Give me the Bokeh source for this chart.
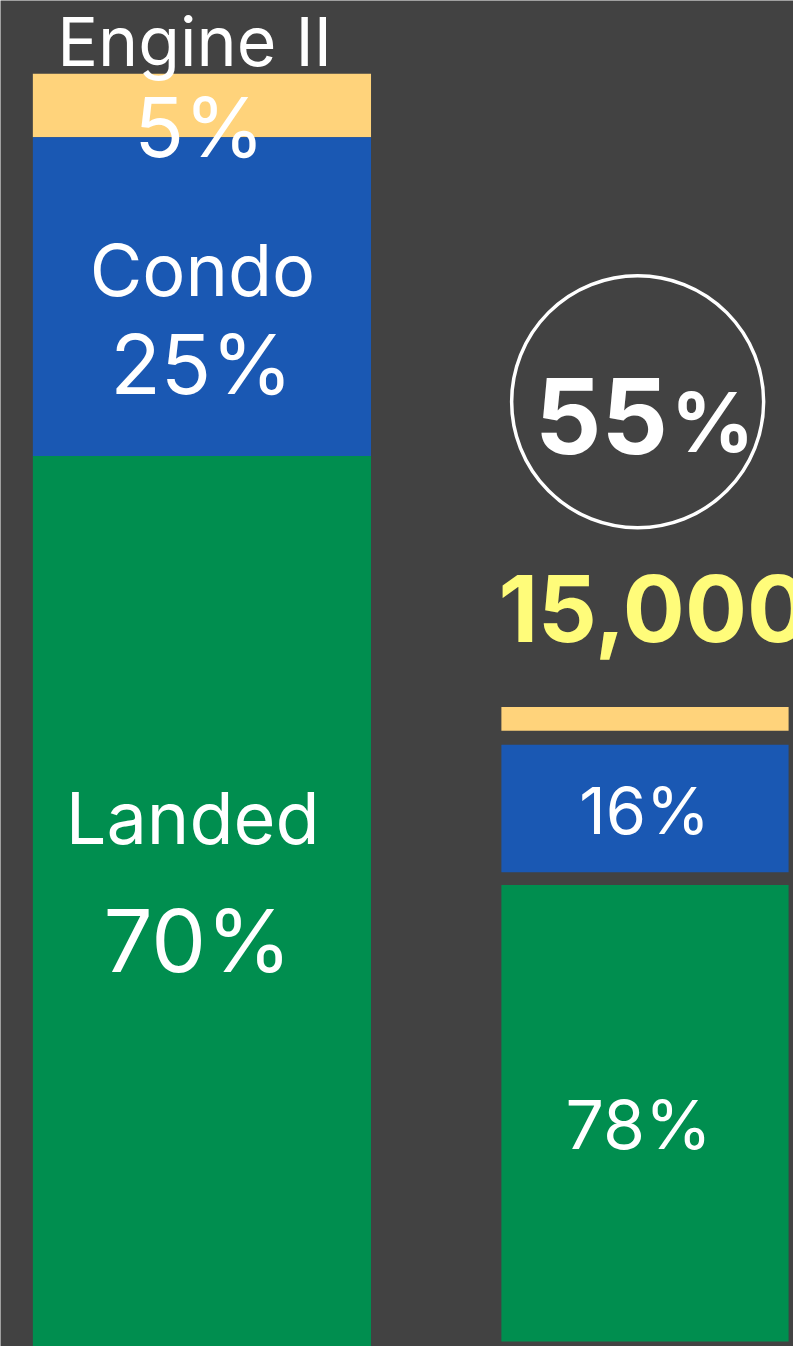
from bokeh.plotting import figure
from bokeh.models import Range1d, ColumnDataSource
from bokeh.embed import file_html
from bokeh.resources import INLINE
from bokeh.core.properties import value

# ---------------- data ----------------
title = "Engine II"
categories = ["Other", "Condo", "Landed"]
left_values = [5, 25, 70]          # % share, Engine II
right_values = [6, 16, 78]         # % share, second group (top slice unlabeled)
circle_value = 55                  # %
headline_value = 15000

# ---------------- styles / layout (reference pixel space) ----------------
W_REF, H_REF = 809, 1362
BG = "#424242"
colors = ["#FFD37B", "#1A58B3", "#008E4F"]
FONT = "Inter"
S = 1.0  # font scale

LEFT_X0, LEFT_X1 = 33, 378
LEFT_TOP_PX, PX_PER_PCT = 74, 12.9
RIGHT_X0, RIGHT_X1 = 511, 804
right_tops = [715, 753, 895]
right_bottoms = [739, 882, 1357]

p = figure(width=793, height=1346, output_backend="svg", toolbar_location=None,
           x_range=Range1d(0, W_REF), y_range=Range1d(H_REF, 0),
           min_border=0, background_fill_color=BG, border_fill_color=BG)
p.axis.visible = False
p.grid.visible = False
p.outline_line_color = None

# percent range for the left stacked bar
p.extra_y_ranges = {"pct": Range1d(start=(H_REF - LEFT_TOP_PX) / PX_PER_PCT,
                                   end=-LEFT_TOP_PX / PX_PER_PCT)}

tops, bottoms, acc = [], [], 0
for v in left_values:
    tops.append(acc)
    acc += v
    bottoms.append(acc)
src_left = ColumnDataSource(dict(left=[LEFT_X0] * 3, right=[LEFT_X1] * 3,
                                 top=tops, bottom=bottoms, color=colors))
p.quad(left="left", right="right", top="top", bottom="bottom", color="color",
       source=src_left, y_range_name="pct", line_color=None)

src_right = ColumnDataSource(dict(left=[RIGHT_X0] * 3, right=[RIGHT_X1] * 3,
                                  top=right_tops, bottom=right_bottoms, color=colors))
p.quad(left="left", right="right", top="top", bottom="bottom", color="color",
       source=src_right, line_color=None)


def txt(x, y_top, y_base, s, size, align="center", color="white", style="normal"):
    # vertically centred between the glyph top and baseline measured on the reference
    p.text(x=[x], y=[(y_top + y_base) / 2], text=[s], text_font=value(FONT),
           text_font_size=f"{size * S:.1f}px", text_color=color,
           text_align=align, text_baseline="middle", text_font_style=style)


# left bar labels
txt(198, 17, 65, title, 68)
txt(203, 100, 158, f"{left_values[0]}%", 82)
txt(206, 247, 297, categories[1], 72)
txt(205, 338, 397, f"{left_values[1]}%", 83)
txt(196, 802, 852, categories[2], 72)
txt(201, 920, 982, f"{left_values[2]}%", 87)

# circle with 55%
p.scatter(x=[650], y=[406], size=252, marker="circle", fill_color="#424242",
          fill_alpha=0.0, line_color="white", line_width=3.5)
txt(681, 383, 457, f"{circle_value}", 104, align="right", style="bold")
txt(684, 398, 457, "%", 82, align="left", style="bold")

# headline number
txt(508, 582, 648, f"{headline_value:,}", 92, align="left", color="#FFFC7A", style="bold")

# right bar labels
txt(657, 797, 843, f"{right_values[1]}%", 65)
txt(651, 1113, 1161, f"{right_values[2]}%", 68)

open("out.html", "w").write(file_html(p, INLINE))
